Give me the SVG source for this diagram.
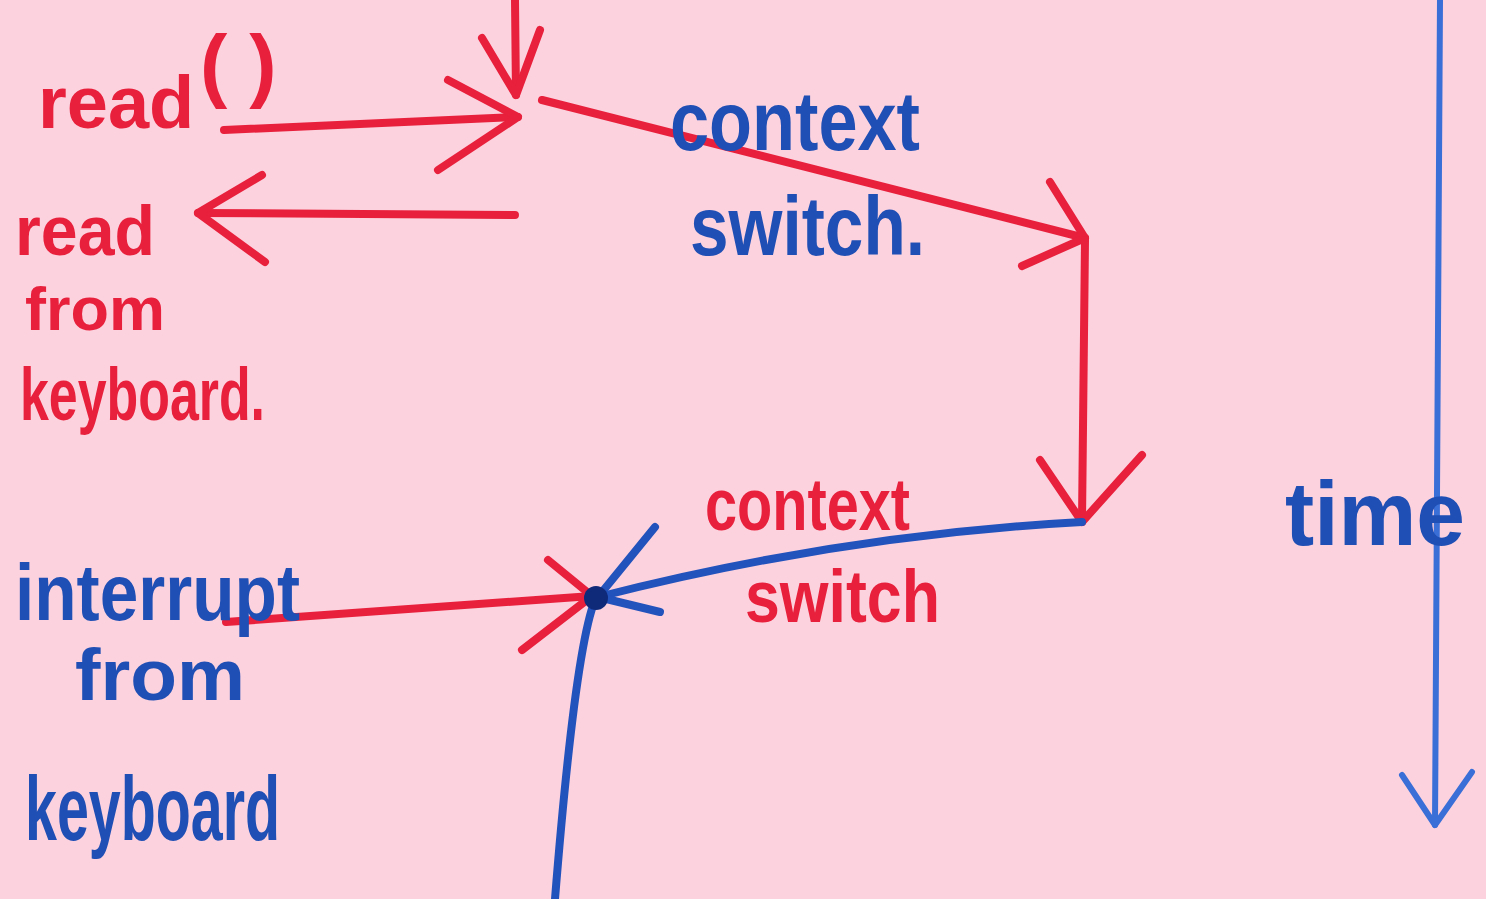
<svg xmlns="http://www.w3.org/2000/svg" width="1486" height="899" viewBox="0 0 1486 899">
<style>
.r{stroke:#e8203c;fill:none;stroke-width:8;stroke-linecap:round;stroke-linejoin:round}
.b{stroke:#2252bc;fill:none;stroke-width:8;stroke-linecap:round;stroke-linejoin:round}
.bt{stroke:#3a6fd8;fill:none;stroke-width:6;stroke-linecap:round;stroke-linejoin:round}
.tr{fill:#e8203c;font-family:"Liberation Sans",sans-serif;font-weight:bold}
.tb{fill:#1f4fb4;font-family:"Liberation Sans",sans-serif;font-weight:bold}
</style>
<rect width="1486" height="899" fill="#fcd2de"/>
<g id="connectors">
<path class="r" d="M515 0 L516 95"/>
<path class="r" d="M482 38 L516 95 L540 30"/>
<path class="r" d="M224 130 L518 117"/>
<path class="r" d="M448 80 L518 117 L438 170"/>
<path class="r" d="M515 215 L198 213"/>
<path class="r" d="M262 175 L198 213 L265 262"/>
<path class="r" d="M542 100 L1085 238"/>
<path class="r" d="M1050 182 L1085 238 L1022 266"/>
<path class="r" d="M1085 240 L1082 522"/>
<path class="r" d="M1040 460 L1082 522 L1142 455"/>
<path class="b" d="M1082 522 Q840 535 598 597"/>
<path class="b" d="M655 527 L598 597 L660 612"/>
<path class="r" d="M226 622 L592 596"/>
<path class="r" d="M548 560 L592 596 L522 650"/>
<path class="b" d="M595 600 Q575 650 555 899"/>
<circle cx="596" cy="598" r="12" fill="#102a7a"/>
<path class="bt" d="M1440 0 L1435 825"/>
<path class="bt" d="M1402 775 L1435 825 L1472 772"/>
</g>
<g id="read-call"><text class="tr" x="38" y="128" font-size="74">read<tspan x="200" y="92" font-size="82" letter-spacing="22">()</tspan></text></g>
<g id="read-from-keyboard">
<text class="tr" x="15" y="255" font-size="70" textLength="140" lengthAdjust="spacingAndGlyphs">read</text>
<text class="tr" x="25" y="330" font-size="62" textLength="140" lengthAdjust="spacingAndGlyphs">from</text>
<text class="tr" x="20" y="420" font-size="74" textLength="245" lengthAdjust="spacingAndGlyphs">keyboard.</text>
</g>
<g id="context-switch-1">
<text class="tb" x="670" y="150" font-size="84" textLength="250" lengthAdjust="spacingAndGlyphs">context</text>
<text class="tb" x="690" y="255" font-size="84" textLength="235" lengthAdjust="spacingAndGlyphs">switch.</text>
</g>
<g id="context-switch-2">
<text class="tr" x="705" y="530" font-size="74" textLength="205" lengthAdjust="spacingAndGlyphs">context</text>
<text class="tr" x="745" y="622" font-size="74" textLength="195" lengthAdjust="spacingAndGlyphs">switch</text>
</g>
<g id="interrupt">
<text class="tb" x="15" y="620" font-size="80" textLength="285" lengthAdjust="spacingAndGlyphs">interrupt</text>
<text class="tb" x="75" y="700" font-size="72" textLength="170" lengthAdjust="spacingAndGlyphs">from</text>
<text class="tb" x="25" y="840" font-size="90" textLength="255" lengthAdjust="spacingAndGlyphs">keyboard</text>
</g>
<g id="time"><text class="tb" x="1285" y="545" font-size="90" textLength="180" lengthAdjust="spacingAndGlyphs">time</text></g>
</svg>
